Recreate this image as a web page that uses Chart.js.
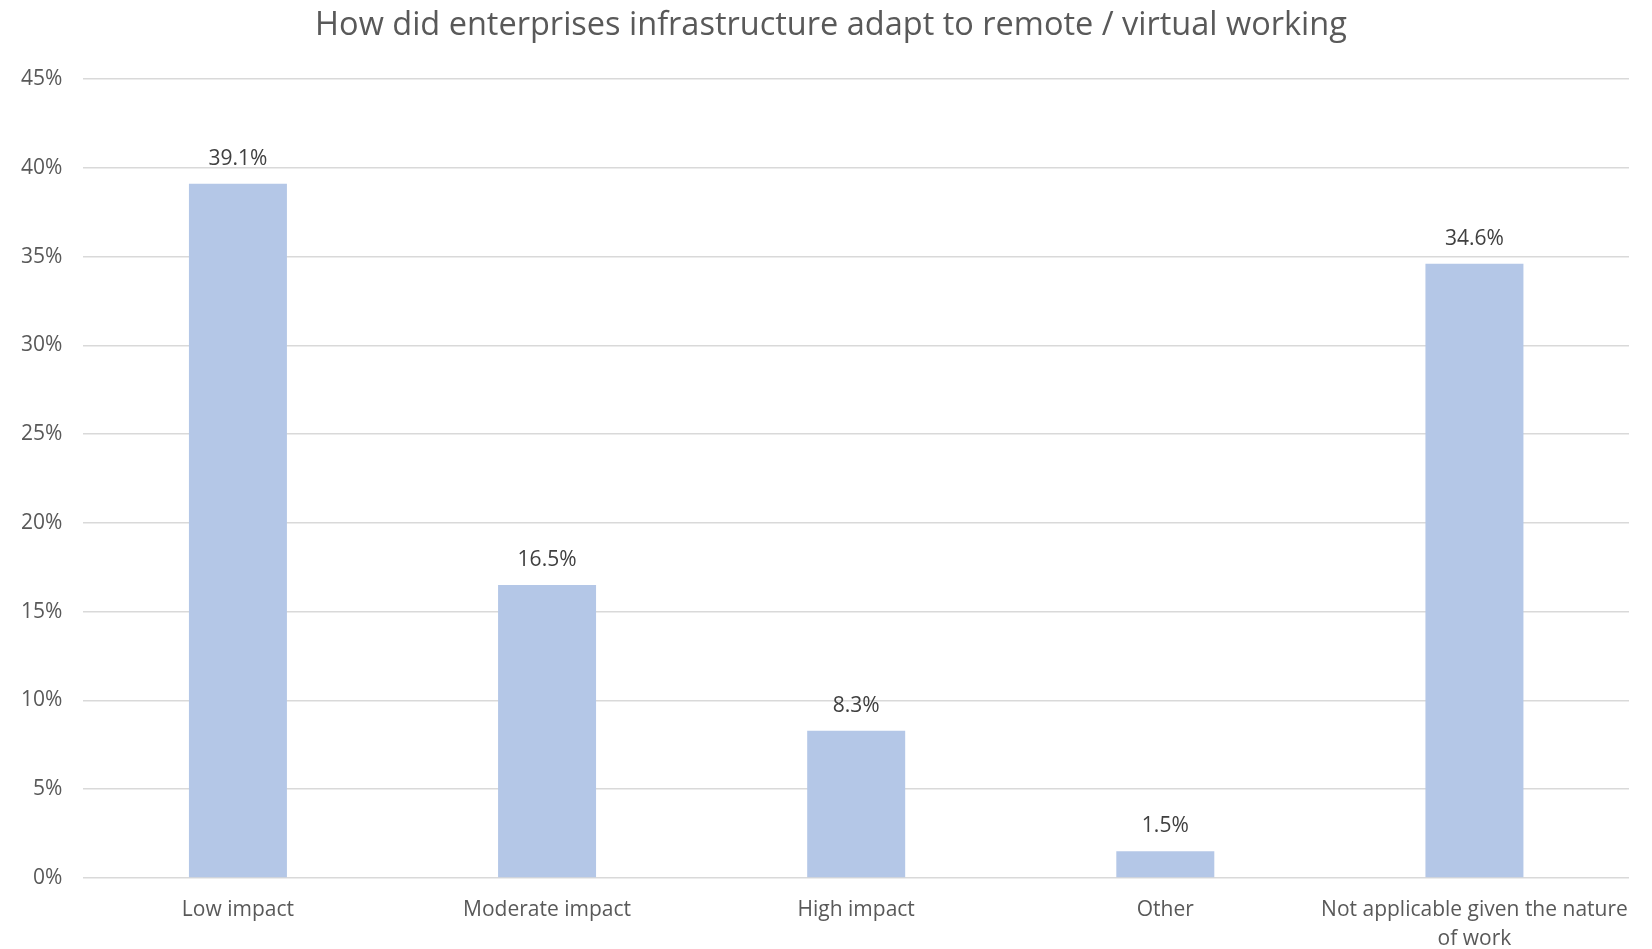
<!DOCTYPE html>
<html>
<head>
<meta charset="utf-8">
<title>Enterprise infrastructure</title>
<script src="https://cdn.jsdelivr.net/npm/chart.js@4.4.0/dist/chart.umd.min.js"></script>
<style>
  html, body { margin: 0; padding: 0; background: #fff; }
  #wrap { width: 1652px; height: 949px; }
</style>
</head>
<body>
<div id="wrap"><canvas id="chart" width="1652" height="949"></canvas></div>
<script>
// categories and shares (percent)
const categories = [
    'Low impact',
    'Moderate impact',
    'High impact',
    'Other',
    ['Not applicable given the nature', 'of work']
];
const shares = [39.1, 16.5, 8.3, 1.5, 34.6];
const yTicks = [0, 5, 10, 15, 20, 25, 30, 35, 40, 45];
const chartTitle = 'How did enterprises infrastructure adapt to remote / virtual working';

// title centred on the whole canvas, not on the padded box
const titleText = {
    id: 'titleText',
    afterDraw(chart) {
        const ctx = chart.ctx;
        ctx.save();
        ctx.font = '32.5px "Open Sans"';
        ctx.fillStyle = '#595959';
        ctx.textAlign = 'center';
        ctx.textBaseline = 'middle';
        ctx.fillText(chartTitle, 831, 26);
        ctx.restore();
    }
};

// write the value above each bar
const valueLabels = {
    id: 'valueLabels',
    afterDatasetsDraw(chart) {
        const ctx = chart.ctx;
        const meta = chart.getDatasetMeta(0);
        ctx.save();
        ctx.font = '21px "Open Sans"';
        ctx.fillStyle = '#404040';
        ctx.textAlign = 'center';
        ctx.textBaseline = 'middle';
        meta.data.forEach((bar, i) => {
            ctx.fillText(shares[i].toFixed(1) + '%', bar.x, bar.y - 25);
        });
        ctx.restore();
    }
};

const ctx = document.getElementById('chart').getContext('2d');
new Chart(ctx, {
    type: 'bar',
    data: {
        labels: categories,
        datasets: [{
            data: shares,
            backgroundColor: '#B4C7E7',
            borderWidth: 0,
            barPercentage: 0.317,
            categoryPercentage: 1
        }]
    },
    options: {
        responsive: false,
        animation: false,
        layout: {
            padding: { left: 0, right: 23, top: 79, bottom: 0 }
        },
        plugins: {
            legend: { display: false },
            tooltip: { enabled: false },
            title: { display: false }
        },
        scales: {
            x: {
                grid: { display: false, drawTicks: false },
                border: { display: false },
                ticks: {
                    color: '#595959',
                    font: { family: '"Open Sans"', size: 21, lineHeight: 1.35 },
                    padding: 18,
                    maxRotation: 0,
                    autoSkip: false
                },
                afterFit(axis) {
                    axis.height = 71;
                }
            },
            y: {
                min: 0,
                max: 45,
                afterBuildTicks(axis) {
                    axis.ticks = yTicks.map(v => ({ value: v }));
                },
                grid: { color: '#d9d9d9', lineWidth: 1.5, drawTicks: false },
                border: { display: false },
                ticks: {
                    color: '#595959',
                    font: { family: '"Open Sans"', size: 21 },
                    padding: 21,
                    callback: v => v + '%'
                }
            }
        }
    },
    plugins: [valueLabels, titleText]
});
</script>
</body>
</html>
